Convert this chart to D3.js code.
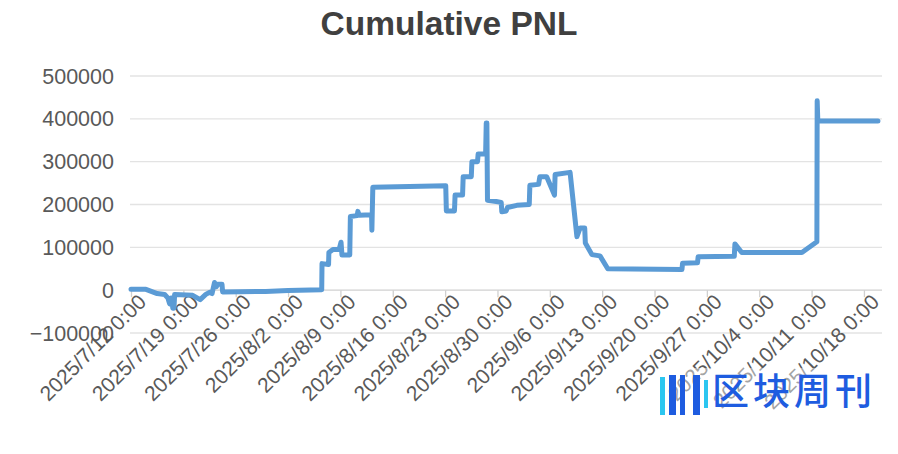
<!DOCTYPE html>
<html>
<head>
<meta charset="utf-8">
<script src="https://cdn.jsdelivr.net/npm/d3@7/dist/d3.min.js"></script>
<style>
html,body{margin:0;padding:0;background:#fff;}
svg{display:block;}
</style>
</head>
<body>
<svg id="chart" width="898" height="454"></svg>
<script>
const title = "Cumulative PNL";
const times = [
"2025-07-12 00:00","2025-07-14 00:00","2025-07-15 12:00","2025-07-16 12:00","2025-07-16 22:00",
"2025-07-17 04:00","2025-07-17 08:00","2025-07-17 12:00","2025-07-17 14:00","2025-07-17 18:00",
"2025-07-17 20:00","2025-07-20 06:00","2025-07-21 06:00","2025-07-22 00:00","2025-07-22 12:00",
"2025-07-22 20:00","2025-07-23 04:00","2025-07-23 10:00","2025-07-23 14:00","2025-07-24 04:00",
"2025-07-24 06:00","2025-07-30 00:00","2025-08-02 00:00","2025-08-06 12:00","2025-08-06 13:00",
"2025-08-07 10:00","2025-08-07 11:00","2025-08-08 00:00","2025-08-08 20:00","2025-08-09 02:00",
"2025-08-09 05:00","2025-08-10 06:00","2025-08-10 08:00","2025-08-11 06:00","2025-08-11 08:00",
"2025-08-11 12:00","2025-08-13 04:00","2025-08-13 05:00","2025-08-13 08:00","2025-08-23 02:00",
"2025-08-23 04:00","2025-08-24 06:00","2025-08-24 08:00","2025-08-25 08:00","2025-08-25 10:00",
"2025-08-26 12:00","2025-08-26 14:00","2025-08-27 08:00","2025-08-27 10:00","2025-08-28 10:00",
"2025-08-28 12:00","2025-08-28 14:00","2025-08-28 16:00","2025-08-29 20:00","2025-08-30 12:00",
"2025-08-30 14:00","2025-08-31 04:00","2025-08-31 08:00","2025-09-01 14:00","2025-09-03 06:00",
"2025-09-03 08:00","2025-09-04 12:00","2025-09-04 16:00","2025-09-05 08:00","2025-09-05 14:00",
"2025-09-06 15:00","2025-09-06 17:00","2025-09-08 17:00","2025-09-09 15:00","2025-09-10 01:00",
"2025-09-10 16:00","2025-09-10 18:00","2025-09-11 15:00","2025-09-12 17:00","2025-09-13 18:00",
"2025-09-23 16:00","2025-09-23 18:00","2025-09-25 18:00","2025-09-25 20:00","2025-09-30 16:00",
"2025-09-30 18:00","2025-10-01 16:00","2025-10-09 17:00","2025-10-11 17:00","2025-10-11 18:00",
"2025-10-11 20:00","2025-10-19 21:00"
];
const pnl = [
2000,2000,-8000,-10000,-18000,
-32000,-18000,-18000,-42000,-42000,
-10000,-12000,-22000,-10000,-5000,
-8000,18000,8000,14000,14000,
-4000,-3000,-1000,1000,62000,
60000,88000,95000,95000,112000,
82000,82000,172000,174000,184000,
175000,176000,140000,240000,244000,
185000,185000,222000,222000,265000,
265000,300000,300000,318000,318000,
390000,390000,210000,207000,205000,
183000,185000,193000,198000,200000,
245000,247000,265000,265000,265000,
222000,270000,275000,125000,145000,
145000,110000,83000,80000,50000,
48000,63000,64000,78000,79000,
108000,88000,88000,113000,442000,
395000,395000
];
const yTicks = [-100000,0,100000,200000,300000,400000,500000];
const xTickLabels = ["2025/7/12 0:00","2025/7/19 0:00","2025/7/26 0:00","2025/8/2 0:00","2025/8/9 0:00",
  "2025/8/16 0:00","2025/8/23 0:00","2025/8/30 0:00","2025/9/6 0:00","2025/9/13 0:00",
  "2025/9/20 0:00","2025/9/27 0:00","2025/10/4 0:00","2025/10/11 0:00","2025/10/18 0:00"];
const xDomain = ["2025-07-12 00:00","2025-10-20 10:00"];

const parse = d3.timeParse("%Y-%m-%d %H:%M");
const parseTick = d3.timeParse("%Y/%m/%d %H:%M");
const data = times.map((t,i)=>({t:parse(t), v:pnl[i]}));
const xTicks = xTickLabels.map(s=>parseTick(s));

const svg = d3.select("#chart");
const W = 898, H = 454;
const mLeft = 131, mRight = 882, mTop = 76, mBottom = 333;

const x = d3.scaleTime().domain(xDomain.map(parse)).range([mLeft, mRight]);
const y = d3.scaleLinear().domain([-100000, 500000]).range([mBottom, mTop]);

const font = "'Liberation Sans', Arial, Helvetica, sans-serif";

// title
svg.append("text").attr("x", W/2).attr("y", 35).attr("text-anchor","middle")
  .attr("font-family", font).attr("font-weight","bold").attr("font-size", 33.5)
  .attr("fill","#404040").text(title);

// gridlines
svg.append("g").selectAll("line").data(yTicks).join("line")
  .attr("x1", mLeft-1).attr("x2", mRight).attr("y1", d=>y(d)).attr("y2", d=>y(d))
  .attr("stroke", d=> d===0 ? "#d0d0d0" : "#e3e3e3").attr("stroke-width", 1.3);

// y labels
svg.append("g").selectAll("text").data(yTicks).join("text")
  .attr("x", 114).attr("y", d=>y(d)).attr("dy","0.35em").attr("text-anchor","end")
  .attr("font-family", font).attr("font-size", 21.5).attr("fill","#595959")
  .text(d=>d3.format("d")(d));

// x axis at zero
const xAxis = d3.axisBottom(x).tickValues(xTicks).tickSize(7).tickFormat((d,i)=>xTickLabels[i]);
const gx = svg.append("g").attr("transform", `translate(0,${y(0)})`).call(xAxis);
gx.select(".domain").remove();
gx.selectAll(".tick line").attr("stroke","#d0d0d0").attr("stroke-width",1.3);
gx.selectAll(".tick text")
  .attr("font-family", font).attr("font-size", 21).attr("fill","#595959")
  .attr("text-anchor","end").attr("dy", null).attr("y", null)
  .attr("transform","translate(16,13) rotate(-45)");

// line
const line = d3.line().x(d=>x(d.t)).y(d=>y(d.v));
svg.append("path").datum(data).attr("d", line)
  .attr("fill","none").attr("stroke","#5b9bd5").attr("stroke-width",5)
  .attr("stroke-linejoin","round").attr("stroke-linecap","round");

// watermark
const wm = svg.append("g");
wm.append("rect").attr("x",656).attr("y",368).attr("width",218).attr("height",52).attr("fill","#fff").attr("opacity",0.45);
wm.append("rect").attr("x",660).attr("y",377).attr("width",5).attr("height",38).attr("fill","#2cc6f0");
wm.append("rect").attr("x",669).attr("y",375).attr("width",7).attr("height",40).attr("fill","#1e5ce0");
wm.append("rect").attr("x",680).attr("y",375).attr("width",5).attr("height",40).attr("fill","#1e5ce0");
wm.append("rect").attr("x",693).attr("y",375).attr("width",7).attr("height",40).attr("fill","#1e5ce0");
wm.append("rect").attr("x",704).attr("y",380).attr("width",4).attr("height",28).attr("fill","#2cc6f0");
wm.append("text").attr("x",712).attr("y",405).attr("font-family","'Noto Sans CJK SC', sans-serif")
  .attr("font-size",37).attr("font-weight",500).attr("fill","#1e5ce0").attr("letter-spacing",4).text("区块周刊");
</script>
</body>
</html>
